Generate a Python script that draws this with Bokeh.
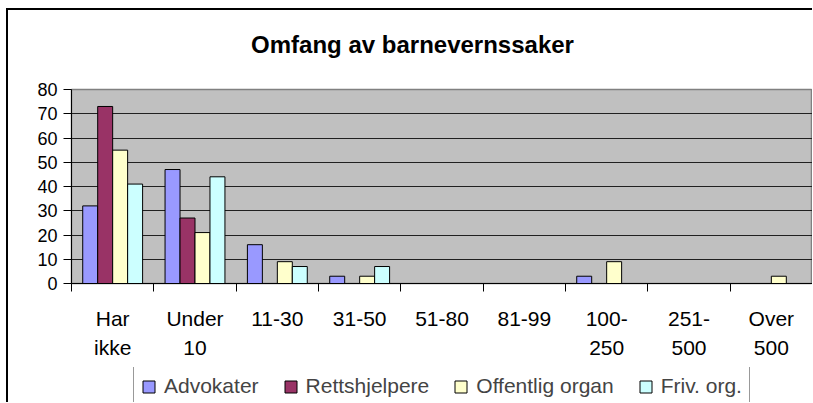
from bokeh.plotting import figure
from bokeh.models import (Range1d, FixedTicker, Legend, LegendItem, Label,
                          ColumnDataSource)
from bokeh.layouts import column
from bokeh.embed import file_html
from bokeh.resources import INLINE

# ---- data ----
categories = ["Har ikke", "Under 10", "11-30", "31-50", "51-80", "81-99",
              "100-250", "251-500", "Over 500"]
tick_labels = ["Har\nikke", "Under\n10", "11-30", "31-50", "51-80", "81-99",
               "100-\n250", "251-\n500", "Over\n500"]
series_names = ["Advokater", "Rettshjelpere", "Offentlig organ", "Friv. org."]
advokater = [32, 47, 16, 3, 0, 0, 3, 0, 0]
rettshjelpere = [73, 27, 0, 0, 0, 0, 0, 0, 0]
offentlig = [55, 21, 9, 3, 0, 0, 9, 0, 3]
friv = [41, 44, 7, 7, 0, 0, 0, 0, 0]
y_ticks = [0, 10, 20, 30, 40, 50, 60, 70, 80]
title_text = "Omfang av barnevernssaker"

colors = ["#9999FF", "#993366", "#FFFFCC", "#CCFFFF"]
FONT = "Liberation Sans"

n = len(categories)
W = 804
LEFT = 63

# ---- title strip ----
tf = figure(width=W, height=69, output_backend="svg", toolbar_location=None,
            x_range=Range1d(0, W - LEFT), y_range=Range1d(0, 69),
            min_border_left=LEFT, min_border_right=0, min_border_top=0,
            min_border_bottom=0)
tf.axis.visible = False
tf.grid.visible = False
tf.outline_line_color = None
tf.background_fill_color = "white"
tf.border_fill_color = "white"
tf.add_layout(Label(x=341, y=35, text=title_text, text_align="center",
                    text_baseline="middle", text_font_size="24px",
                    text_font_style="bold", text_font=FONT,
                    text_color="black"))

# ---- main chart ----
p = figure(width=W, height=288, output_backend="svg", toolbar_location=None,
           x_range=Range1d(0, n), y_range=Range1d(0, 80),
           min_border_left=LEFT, min_border_right=0, min_border_top=10,
           min_border_bottom=84, title=None)
p.background_fill_color = "#C0C0C0"
p.border_fill_color = "white"
p.outline_line_color = "#808080"
p.outline_line_width = 1.5

bar_w = 1 / 5.5
offsets = [-1.5 * bar_w, -0.5 * bar_w, 0.5 * bar_w, 1.5 * bar_w]
all_series = [advokater, rettshjelpere, offentlig, friv]
sources = []
for vals, off, col in zip(all_series, offsets, colors):
    xs = [i + 0.5 + off for i in range(n)]
    src = ColumnDataSource(dict(x=xs, top=vals))
    sources.append(src)
    p.vbar(x="x", top="top", width=bar_w, source=src, fill_color=col,
           line_color="black", line_width=1)

centers = [i + 0.5 for i in range(n)]
bounds = list(range(n + 1))
xa = p.xaxis[0]
xa.ticker = FixedTicker(ticks=centers, minor_ticks=bounds)
xa.major_label_overrides = {c: t for c, t in zip(centers, tick_labels)}
xa.major_tick_out = 0
xa.major_tick_in = 0
xa.minor_tick_out = 8
xa.minor_tick_in = 0
xa.minor_tick_line_color = "black"
xa.axis_line_color = "black"
xa.major_label_text_font = FONT
xa.major_label_text_font_size = "21px"
xa.major_label_text_color = "black"
xa.major_label_text_line_height = 1.3
xa.major_label_standoff = 15

ya = p.yaxis[0]
ya.ticker = FixedTicker(ticks=y_ticks)
ya.major_tick_out = 8
ya.major_tick_in = 0
ya.minor_tick_line_color = None
ya.axis_line_color = "black"
ya.major_tick_line_color = "black"
ya.major_label_text_font = FONT
ya.major_label_text_font_size = "18px"
ya.major_label_text_color = "black"
ya.major_label_standoff = 6

p.xgrid.visible = False
p.ygrid.ticker = FixedTicker(ticks=y_ticks[1:-1])
p.ygrid.grid_line_color = "#202020"
p.ygrid.grid_line_width = 1

# ---- legend strip (same sources, drawn off-view) ----
lf = figure(width=W, height=35, output_backend="svg", toolbar_location=None,
            x_range=Range1d(-100, -99), y_range=Range1d(0, 1),
            min_border_left=LEFT, min_border_right=0, min_border_top=0,
            min_border_bottom=0)
lf.axis.visible = False
lf.grid.visible = False
lf.outline_line_color = None
lf.background_fill_color = "white"
lf.border_fill_color = "white"
leg_renderers = []
for src, col in zip(sources, colors):
    r = lf.vbar(x="x", top="top", width=bar_w, source=src, fill_color=col,
                line_color="black", line_width=1)
    leg_renderers.append(r)
legend = Legend(items=[LegendItem(label=nm, renderers=[r])
                       for nm, r in zip(series_names, leg_renderers)],
                location=(62, -4), orientation="horizontal")
legend.label_text_font = FONT
legend.label_text_font_size = "21px"
legend.glyph_width = 15
legend.glyph_height = 15
legend.label_standoff = 8
legend.spacing = 24
legend.padding = 7
legend.margin = 0
legend.border_line_color = "#333333"
legend.border_line_width = 1
legend.background_fill_color = "white"
legend.background_fill_alpha = 1
lf.add_layout(legend, "center")

layout = column(tf, p, lf, spacing=0,
                styles={"border-left": "2px solid black",
                        "border-top": "2px solid black",
                        "margin-left": "6px", "margin-top": "8px",
                        "overflow": "hidden", "box-sizing": "content-box"})

open("out.html", "w").write(file_html(layout, INLINE))
